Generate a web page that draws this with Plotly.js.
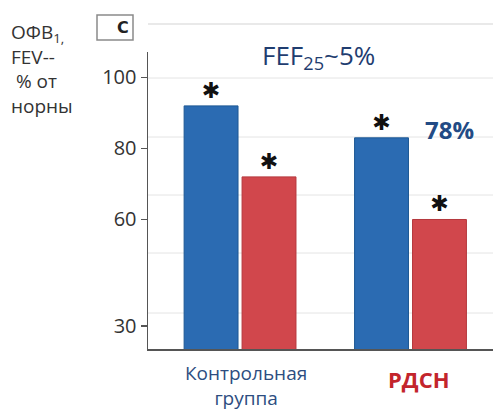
<!DOCTYPE html>
<html>
<head>
<meta charset="utf-8">
<script src="https://cdn.plot.ly/plotly-3.0.1.min.js"></script>
<style>html,body{margin:0;padding:0;background:#fff;}#chart{width:493px;height:412px;}</style>
</head>
<body>
<div id="chart"></div>
<script>
// ---- data ----
var categories = ["Контрольная<br>группа", "РДСН"];
var fev1Values = [92, 83];      // blue bars (ОФВ1)
var fevValues  = [72, 60];      // red bars (FEV)
var barMarks   = ["✱", "✱"];
var yTickVals  = [100, 80, 60, 30];
var yTickText  = ["100", "80", "60", "30"];
var titleText  = "FEF<sub>25</sub>~5%";
var noteText   = "<b>78%</b>";
var yTitleText = "ОФВ<sub>1,</sub><br>FEV--<br>\u00a0% от<br>норны";

// pixel -> paper helpers (plot area: x 148..493, y 52..349)
function px(x){ return (x - 148) / 345; }
function py(y){ return (349 - y) / 297; }

var traces = [
  {
    type: "bar", x: categories, y: fev1Values, name: "ОФВ1",
    marker: {color: "#2b6bb2", line: {color: "#1d5894", width: 1}},
    text: barMarks, textposition: "outside", cliponaxis: false,
    textfont: {family: "DejaVu Sans", size: 22, color: "#111"}
  },
  {
    type: "bar", x: categories, y: fevValues, name: "FEV",
    marker: {color: "#d1474c", line: {color: "#b5383d", width: 1}},
    text: barMarks, textposition: "outside", cliponaxis: false,
    textfont: {family: "DejaVu Sans", size: 22, color: "#111"}
  }
];

var gridY = [78, 137, 195, 253, 313];
var shapes = gridY.map(function(g){
  return {type: "line", xref: "paper", yref: "paper", x0: 0, x1: 1, y0: py(g), y1: py(g),
          line: {color: "#e4e4e4", width: 1}, layer: "below"};
});
shapes.push({type: "line", xref: "paper", yref: "paper", x0: 0, x1: 1, y0: py(24), y1: py(24),
             line: {color: "#d4d4d4", width: 1.2}, layer: "below"});
shapes.push({type: "rect", xref: "paper", yref: "paper", x0: px(97), x1: px(133), y0: py(40), y1: py(15),
             line: {color: "#8a8a8a", width: 1.5}, fillcolor: "#ffffff"});

var annotations = [
  {xref: "paper", yref: "paper", x: px(318), y: py(56), text: titleText, showarrow: false,
   xanchor: "center", yanchor: "middle", font: {family: "Open Sans", size: 26, color: "#1f3d70"}},
  {xref: "paper", yref: "paper", x: px(449), y: py(129), text: noteText, showarrow: false,
   xanchor: "center", yanchor: "middle", font: {family: "Open Sans", size: 24, color: "#224b85"}},
  {xref: "paper", yref: "paper", x: px(9), y: py(17), text: yTitleText, showarrow: false,
   xanchor: "left", yanchor: "top", align: "left", font: {family: "Open Sans", size: 19, color: "#333"}},
  {xref: "paper", yref: "paper", x: px(123), y: py(27), text: "<b>С</b>", showarrow: false,
   xanchor: "center", yanchor: "middle", font: {family: "DejaVu Sans", size: 16, color: "#222"}},
  {xref: "x", yref: "paper", x: categories[0], xshift: 6, y: py(358), text: categories[0], showarrow: false,
   xanchor: "center", yanchor: "top", font: {family: "Open Sans", size: 19, color: "#2d4d80"}},
  {xref: "x", yref: "paper", x: categories[1], xshift: 8, y: py(362), text: "<b>" + categories[1] + "</b>", showarrow: false,
   xanchor: "center", yanchor: "top", font: {family: "Open Sans", size: 22, color: "#c3252c"}}
];

var layout = {
  width: 493, height: 412,
  margin: {l: 148, r: 0, t: 52, b: 63, pad: 0},
  paper_bgcolor: "#fff", plot_bgcolor: "#fff",
  showlegend: false,
  barmode: "group", bargap: 0.32, bargroupgap: 0.07,
  xaxis: {range: [-0.54, 1.484], showticklabels: false, ticks: "", showgrid: false,
          zeroline: false, showline: true, linecolor: "#555", linewidth: 1.5, fixedrange: true},
  yaxis: {range: [23.52, 107.18], tickvals: yTickVals, ticktext: yTickText, ticks: "outside",
          ticklen: 6, tickcolor: "#555", tickwidth: 1.3, showgrid: false, zeroline: false,
          showline: true, linecolor: "#555", linewidth: 1.5,
          tickfont: {family: "Open Sans", size: 20, color: "#333"}, fixedrange: true},
  shapes: shapes,
  annotations: annotations
};

Plotly.newPlot("chart", traces, layout, {displayModeBar: false, staticPlot: true});
</script>
</body>
</html>
